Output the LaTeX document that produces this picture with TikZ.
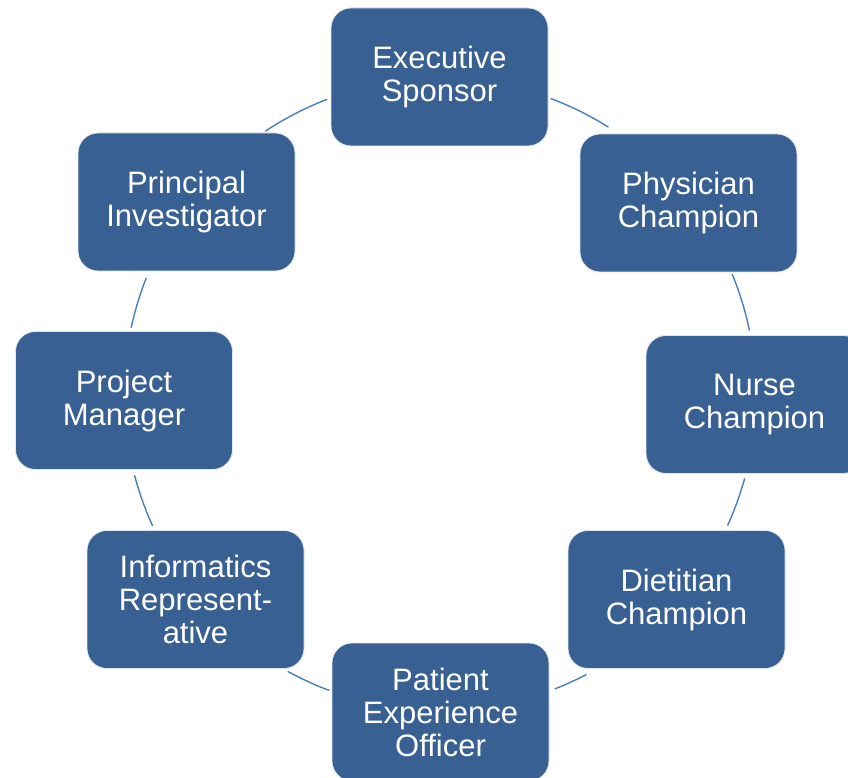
\documentclass[tikz,border=0pt]{standalone}
\usepackage{fontspec}
\setmainfont{Liberation Sans}
\definecolor{boxblue}{HTML}{386092}
\definecolor{arcblue}{HTML}{4A7EBB}
\begin{document}
\begin{tikzpicture}[x=1pt,y=1pt,
  rolebox/.style={draw=white!85!boxblue, line width=0.8pt, fill=boxblue, rounded corners=20pt,
    minimum width=217pt, minimum height=138pt, inner sep=0pt, text=white, align=center,
    font=\fontsize{31}{33}\selectfont},
  ring/.style={draw=arcblue, line width=1.4pt}]
\clip (0,0) rectangle (848,777);
\fill[white] (0,0) rectangle (848,777);
\coordinate (c) at (440,382.5);
% arcs
\draw[ring] (c) ++(69.5:316) arc[start angle=69.5, end angle=57.8, radius=316];
\draw[ring] (c) ++(22.4:316) arc[start angle=22.4, end angle=11.7, radius=316];
\draw[ring] (c) ++(-15.4:316) arc[start angle=-15.4, end angle=-24.5, radius=316];
\draw[ring] (c) ++(-62.4:316) arc[start angle=-62.4, end angle=-68.7, radius=316];
\draw[ring] (c) ++(-110.5:316) arc[start angle=-110.5, end angle=-118.8, radius=316];
\draw[ring] (c) ++(-155.4:316) arc[start angle=-155.4, end angle=-165.2, radius=316];
\draw[ring] (c) ++(167.8:316) arc[start angle=167.8, end angle=158.4, radius=316];
\draw[ring] (c) ++(123.6:316) arc[start angle=123.6, end angle=110.9, radius=316];
% boxes
\node[rolebox] (exec) at (439.5,700) {Executive\\Sponsor};
\node[rolebox] (phys) at (688.5,574) {Physician\\Champion};
\node[rolebox] (nurse) at (754.5,372.5) {Nurse\\Champion};
\node[rolebox] (diet) at (676.5,177.5) {Dietitian\\Champion};
\node[rolebox] (patient) at (440.5,65) {Patient\\Experience\\Officer};
\node[rolebox] (info) at (195.5,177.5) {Informatics\\Represent-\\ative};
\node[rolebox] (pm) at (124,376.5) {Project\\Manager};
\node[rolebox] (pi) at (186.5,575) {Principal\\Investigator};
\end{tikzpicture}
\end{document}
